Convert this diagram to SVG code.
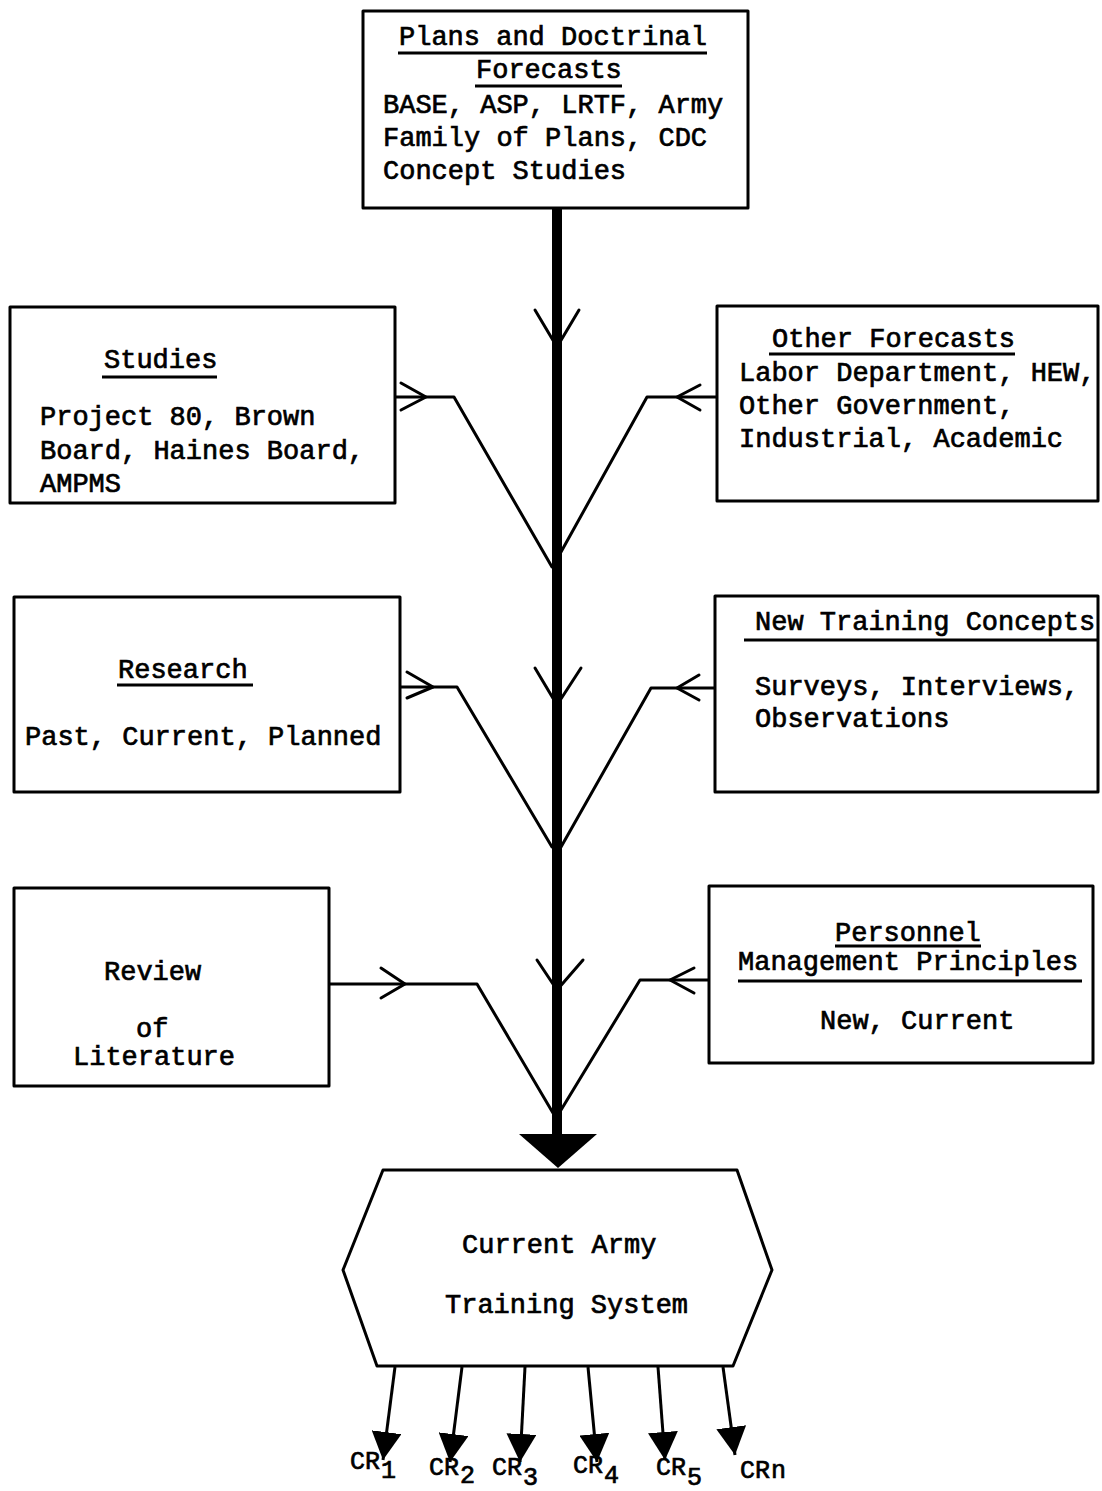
<svg xmlns="http://www.w3.org/2000/svg" width="1102" height="1491" viewBox="0 0 1102 1491">
  <style>
    .box { fill: #fff; stroke: #000; stroke-width: 3; stroke-linejoin: round; }
    .t { font-family: "Liberation Mono", "Courier New", monospace; font-size: 27px; fill: #000; stroke: #000; stroke-width: 0.7; }
    .cr { font-size: 25px; }
    .ul { stroke: #000; stroke-width: 3; }
    .ln { fill: none; stroke: #000; stroke-width: 3; stroke-linejoin: round; stroke-linecap: round; }
    .out { fill: none; stroke: #000; stroke-width: 3; marker-end: url(#tri); }
  </style>
  <defs>
    <marker id="tri" viewBox="0 0 28 30" refX="28" refY="15" markerWidth="28" markerHeight="30" markerUnits="userSpaceOnUse" orient="auto">
      <path d="M0,0 L28,15 L0,30 Z" fill="#000"/>
    </marker>
  </defs>
  <rect width="1102" height="1491" fill="#fff"/>

  <!-- connectors: trunk, branches, open arrowheads, outputs -->
  <g id="connectors">
    <rect x="552" y="206" width="10" height="932" fill="#000"/>
    <polygon points="519,1134 597,1134 558,1168" fill="#000"/>
    <!-- open arrowheads on the trunk -->
    <polyline class="ln" points="535,310 557,347 579,310"/>
    <polyline class="ln" points="535,668 557,705 581,668"/>
    <polyline class="ln" points="537,960 557,990 583,960"/>
    <!-- left branches -->
    <polyline class="ln" points="395,397 454,397 552,567"/>
    <polyline class="ln" points="401,383 426,397 401,410"/>
    <polyline class="ln" points="400,687 457,687 552,847"/>
    <polyline class="ln" points="407,672 433,687 407,698"/>
    <polyline class="ln" points="329,984 477,984 553,1113"/>
    <polyline class="ln" points="381,968 405,984 381,998"/>
    <!-- right branches -->
    <polyline class="ln" points="717,397 647,397 561,552"/>
    <polyline class="ln" points="700,385 677,397 700,410"/>
    <polyline class="ln" points="715,688 651,688 561,847"/>
    <polyline class="ln" points="699,675 677,688 699,700"/>
    <polyline class="ln" points="708,980 640,980 561,1110"/>
    <polyline class="ln" points="694,968 670,980 694,993"/>
    <!-- outputs of the training system -->
    <line class="out" x1="395" y1="1367" x2="383" y2="1460"/>
    <line class="out" x1="462" y1="1367" x2="450" y2="1462"/>
    <line class="out" x1="525" y1="1367" x2="520" y2="1462"/>
    <line class="out" x1="588" y1="1367" x2="597" y2="1462"/>
    <line class="out" x1="658" y1="1367" x2="665" y2="1460"/>
    <line class="out" x1="723" y1="1367" x2="735" y2="1455"/>
  </g>

  <g id="plans">
    <rect class="box" x="363" y="11" width="385" height="197"/>
    <text class="t" x="399" y="45">Plans and Doctrinal</text>
    <line class="ul" x1="398" y1="53" x2="707" y2="53"/>
    <text class="t" x="476" y="78">Forecasts</text>
    <line class="ul" x1="475" y1="86" x2="622" y2="86"/>
    <text class="t" x="383" y="113">BASE, ASP, LRTF, Army</text>
    <text class="t" x="383" y="146">Family of Plans, CDC</text>
    <text class="t" x="383" y="179">Concept Studies</text>
  </g>

  <g id="studies">
    <rect class="box" x="10" y="307" width="385" height="196"/>
    <text class="t" x="104" y="368">Studies</text>
    <line class="ul" x1="102" y1="377" x2="217" y2="377"/>
    <text class="t" x="40" y="425">Project 80, Brown</text>
    <text class="t" x="40" y="459">Board, Haines Board,</text>
    <text class="t" x="40" y="492">AMPMS</text>
  </g>

  <g id="other-forecasts">
    <rect class="box" x="717" y="306" width="381" height="195"/>
    <text class="t" x="772" y="347">Other Forecasts</text>
    <line class="ul" x1="769" y1="354" x2="1015" y2="354"/>
    <text class="t" x="739" y="381">Labor Department, HEW,</text>
    <text class="t" x="739" y="414">Other Government,</text>
    <text class="t" x="739" y="447">Industrial, Academic</text>
  </g>

  <g id="research">
    <rect class="box" x="14" y="597" width="386" height="195"/>
    <text class="t" x="118" y="678">Research</text>
    <line class="ul" x1="117" y1="685" x2="253" y2="685"/>
    <text class="t" x="25" y="745">Past, Current, Planned</text>
  </g>

  <g id="training-concepts">
    <rect class="box" x="715" y="596" width="383" height="196"/>
    <text class="t" x="755" y="630">New Training Concepts</text>
    <line class="ul" x1="744" y1="640" x2="1098" y2="640"/>
    <text class="t" x="755" y="695">Surveys, Interviews,</text>
    <text class="t" x="755" y="727">Observations</text>
  </g>

  <g id="literature">
    <rect class="box" x="14" y="888" width="315" height="198"/>
    <text class="t" x="104" y="980">Review</text>
    <text class="t" x="136" y="1037">of</text>
    <text class="t" x="73" y="1065">Literature</text>
  </g>

  <g id="personnel">
    <rect class="box" x="709" y="886" width="384" height="177"/>
    <text class="t" x="835" y="941">Personnel</text>
    <line class="ul" x1="835" y1="946" x2="981" y2="946"/>
    <text class="t" x="738" y="970">Management Principles</text>
    <line class="ul" x1="738" y1="981" x2="1082" y2="981"/>
    <text class="t" x="820" y="1029">New, Current</text>
  </g>

  <g id="training-system">
    <polygon class="box" points="383,1170 737,1170 772,1270 733,1366 377,1366 343,1270"/>
    <text class="t" x="462" y="1253">Current Army</text>
    <text class="t" x="445" y="1313">Training System</text>
  </g>

  <g id="outputs">
    <text class="t cr" x="350" y="1469">CR</text><text class="t cr" x="381" y="1478">1</text>
    <text class="t cr" x="429" y="1475">CR</text><text class="t cr" x="460" y="1483">2</text>
    <text class="t cr" x="492" y="1475">CR</text><text class="t cr" x="523" y="1485">3</text>
    <text class="t cr" x="573" y="1473">CR</text><text class="t cr" x="604" y="1483">4</text>
    <text class="t cr" x="656" y="1475">CR</text><text class="t cr" x="687" y="1485">5</text>
    <text class="t cr" x="740" y="1478">CR</text><text class="t cr" x="771" y="1478">n</text>
  </g>
</svg>
